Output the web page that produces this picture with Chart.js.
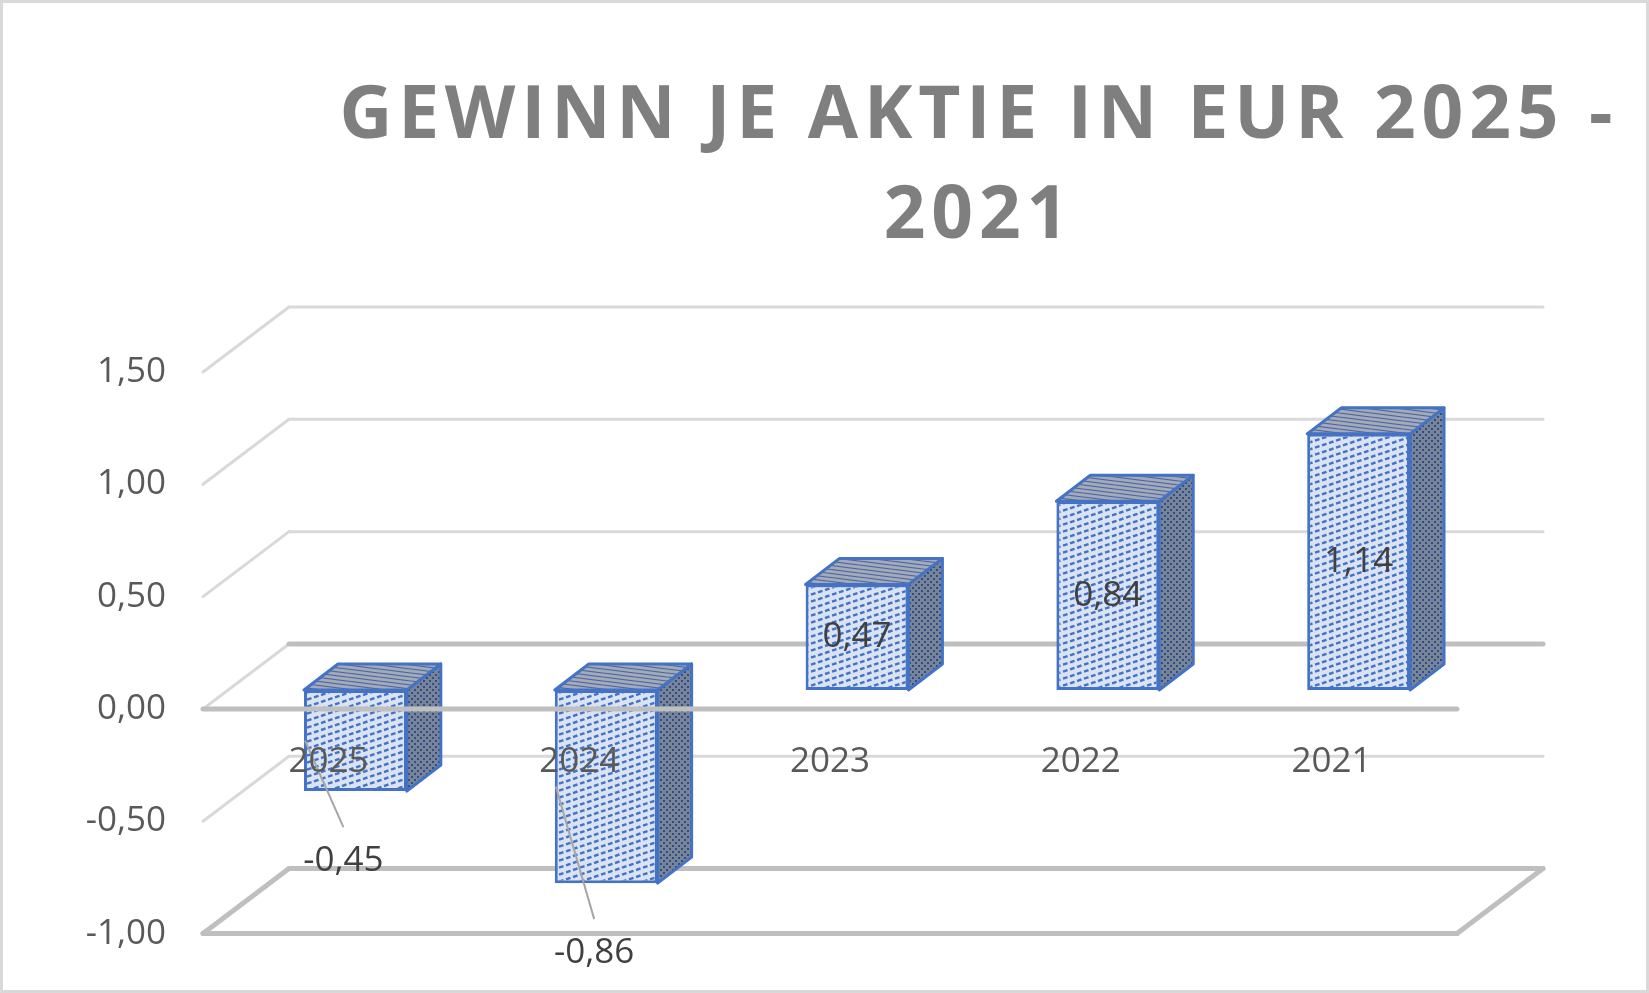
<!DOCTYPE html>
<html>
<head>
<meta charset="utf-8">
<script src="https://cdn.jsdelivr.net/npm/chart.js@4.4.1/dist/chart.umd.min.js"></script>
<style>
  html, body { margin: 0; padding: 0; background: #fff; }
  #wrap { width: 1649px; height: 993px; }
</style>
</head>
<body>
<div id="wrap"><canvas id="myChart" width="1649" height="993"></canvas></div>
<script>
var titleLines = ['GEWINN JE AKTIE IN EUR 2025 -', '2021'];
var years = ['2025', '2024', '2023', '2022', '2021'];
var eps = [-0.45, -0.86, 0.47, 0.84, 1.14];
var yTicks = [-1, -0.5, 0, 0.5, 1, 1.5];

// fake 3d: back wall offset, bar plane offset, bar depth
var depthX = 86, depthY = 65;
var barShiftX = 27, barShiftY = 19;
var sideX = 34, sideY = 26;

function fmt(v) {
    return v.toFixed(2).replace('.', ',');
}

function makePattern(w, h, bg, paint) {
    var cv = document.createElement('canvas');
    cv.width = w; cv.height = h;
    var c = cv.getContext('2d');
    c.fillStyle = bg;
    c.fillRect(0, 0, w, h);
    paint(c, w, h);
    return document.getElementById('myChart').getContext('2d').createPattern(cv, 'repeat');
}

// front face: dashed upward diagonal
var frontFill = makePattern(21, 7, '#dae3f3', function(c, w, h) {
    c.strokeStyle = '#4472c4';
    c.lineWidth = 2.4;
    for (var ox = -w; ox <= w; ox += w) {
        for (var oy = -h; oy <= h; oy += h) {
            for (var k = 0; k < 3; k++) {
                var x0 = k * 7, x1 = x0 + 4.5;
                c.beginPath();
                c.moveTo(ox + x0, oy + h - x0 * h / w);
                c.lineTo(ox + x1, oy + h - x1 * h / w);
                c.stroke();
            }
        }
    }
});
// top face: thin slanted lines
var topFill = makePattern(32, 4, '#a3abbb', function(c, w, h) {
    c.strokeStyle = '#4d67a0';
    c.lineWidth = 1.2;
    for (var oy = -h; oy <= h; oy += h) {
        c.beginPath();
        c.moveTo(0, oy);
        c.lineTo(w, oy + h);
        c.stroke();
    }
});
// side face: dark dotted
var sideFill = makePattern(6, 6, '#7a8497', function(c) {
    c.fillStyle = '#2c4c8a';
    c.fillRect(0, 3, 2, 2);
    c.fillRect(3, 0, 2, 2);
});

function seg(c, x1, y1, x2, y2, color, width) {
    c.strokeStyle = color;
    c.lineWidth = width;
    c.beginPath();
    c.moveTo(x1, y1);
    c.lineTo(x2, y2);
    c.stroke();
}

function poly(c, pts, fill) {
    c.beginPath();
    c.moveTo(pts[0][0], pts[0][1]);
    for (var i = 1; i < pts.length; i++) c.lineTo(pts[i][0], pts[i][1]);
    c.closePath();
    c.fillStyle = fill;
    c.fill();
    c.stroke();
}

var threeD = {
    id: 'threeD',
    beforeDraw: function(chart) {
        var c = chart.ctx;
        c.save();
        c.strokeStyle = '#d9d9d9';
        c.lineWidth = 3;
        c.strokeRect(1.5, 1.5, chart.width - 3, chart.height - 3);

        // title, letter spaced
        c.font = 'bold 73px "Open Sans"';
        c.fillStyle = '#7f7f7f';
        c.textBaseline = 'alphabetic';
        c.textAlign = 'left';
        c.letterSpacing = '0px';
        var w0 = c.measureText(titleLines[0]).width;
        var sp = (1273 - w0) / (titleLines[0].length - 1);
        c.letterSpacing = sp + 'px';
        titleLines.forEach(function(t, i) {
            var w = c.measureText(t).width - sp;
            c.fillText(t, 976 - w / 2, 138 + i * 100);
        });
        c.restore();
    },
    beforeDatasetsDraw: function(chart) {
        var c = chart.ctx, a = chart.chartArea, ys = chart.scales.y;
        c.save();
        c.lineCap = 'round';
        yTicks.forEach(function(v) {
            var py = ys.getPixelForValue(v);
            var floor = (v === ys.min);
            var strong = floor || v === 0;
            seg(c, a.left, py, a.left + depthX, py - depthY, floor ? '#bfbfbf' : '#d9d9d9', floor ? 5 : 3);
            seg(c, a.left + depthX, py - depthY, a.right + depthX, py - depthY, strong ? '#bfbfbf' : '#d9d9d9', strong ? 5 : 3);
            if (floor) {
                seg(c, a.left, py, a.right, py, '#bfbfbf', 5);
                seg(c, a.right, py, a.right + depthX, py - depthY, '#bfbfbf', 5);
            }
        });
        c.restore();

        // bars sit behind the front edge; faces drawn here, fronts by Chart.js
        c.save();
        c.translate(barShiftX, -barShiftY);
        c.strokeStyle = '#4472c4';
        c.lineWidth = 3;
        c.lineJoin = 'round';
        chart.getDatasetMeta(0).data.forEach(function(bar) {
            var l = bar.x - bar.width / 2, r = bar.x + bar.width / 2;
            var t = Math.min(bar.y, bar.base), b = Math.max(bar.y, bar.base);
            poly(c, [[r, t], [r + sideX, t - sideY], [r + sideX, b - sideY], [r, b]], sideFill);
            poly(c, [[l, t], [l + sideX, t - sideY], [r + sideX, t - sideY], [r, t]], topFill);
        });
    },
    afterDatasetsDraw: function(chart) {
        var c = chart.ctx, a = chart.chartArea, ys = chart.scales.y;
        c.restore();
        c.save();
        c.lineCap = 'round';
        var z = ys.getPixelForValue(0);
        seg(c, a.left, z, a.right, z, '#bfbfbf', 5);

        c.font = '35px "Open Sans"';
        c.fillStyle = '#404040';
        c.textAlign = 'center';
        c.textBaseline = 'middle';
        chart.getDatasetMeta(0).data.forEach(function(bar, i) {
            var x = bar.x + barShiftX;
            var t = Math.min(bar.y, bar.base) - barShiftY;
            var b = Math.max(bar.y, bar.base) - barShiftY;
            var txt = fmt(eps[i]);
            if (eps[i] >= 0) {
                c.fillText(txt, x, (t + b) / 2);
            } else {
                var lx = x - 12, ly = b + 70;
                c.lineCap = 'butt';
                seg(c, x - bar.width / 2 + 1, (t + b) / 2, lx, ly - 34, '#a6a6a6', 2);
                c.fillText(txt, lx, ly);
            }
        });
        c.restore();
    }
};

var ctx = document.getElementById('myChart').getContext('2d');
var chart = new Chart(ctx, {
    type: 'bar',
    data: {
        labels: years,
        datasets: [{
            data: eps,
            backgroundColor: frontFill,
            borderColor: '#4472c4',
            borderWidth: 3,
            borderSkipped: false,
            barPercentage: 0.41,
            categoryPercentage: 1
        }]
    },
    options: {
        responsive: false,
        animation: false,
        devicePixelRatio: 1,
        layout: { padding: { left: 0, right: 192, top: 372, bottom: 59.4 } },
        plugins: {
            legend: { display: false },
            tooltip: { enabled: false },
            title: { display: false }
        },
        scales: {
            x: {
                position: { y: 0 },
                grid: { display: false, drawTicks: false },
                border: { display: false },
                ticks: {
                    z: 1,
                    color: '#595959',
                    font: { family: 'Open Sans', size: 35 },
                    padding: 32,
                    maxRotation: 0
                }
            },
            y: {
                min: -1,
                max: 1.5,
                afterBuildTicks: function(s) {
                    s.ticks = yTicks.map(function(v) { return { value: v }; });
                },
                afterFit: function(s) { s.width = 203; },
                grid: { display: false, drawTicks: false },
                border: { display: false },
                ticks: {
                    color: '#595959',
                    font: { family: 'Open Sans', size: 35 },
                    padding: 37,
                    callback: function(v) { return fmt(v); }
                }
            }
        }
    },
    plugins: [threeD]
});
</script>
</body>
</html>
